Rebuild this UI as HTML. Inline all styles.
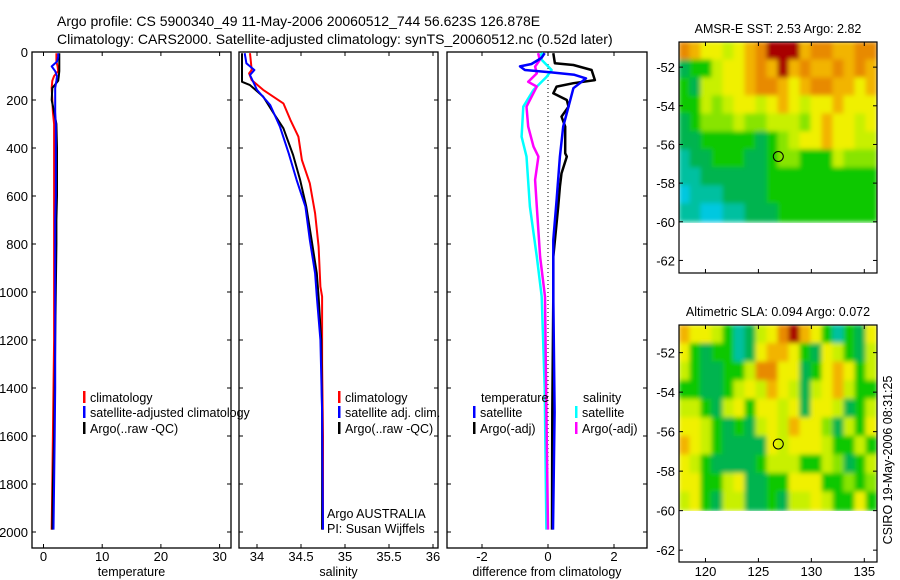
<!DOCTYPE html>
<html><head><meta charset="utf-8"><style>
html,body{margin:0;padding:0;background:#fff}
svg{display:block;font-family:"Liberation Sans",sans-serif}
</style></head><body>
<svg id="c" width="900" height="580" viewBox="0 0 900 580">
<defs>
<filter id="bl" filterUnits="userSpaceOnUse" x="600" y="0" width="300" height="580"><feGaussianBlur stdDeviation="2.5"/></filter>
<clipPath id="cm1"><rect x="679" y="42" width="198" height="181"/></clipPath>
<clipPath id="cm2"><rect x="679" y="325" width="198" height="186"/></clipPath>
</defs>
<text x="57" y="26" font-size="14">Argo profile: CS 5900340_49 11-May-2006 20060512_744 56.623S 126.878E</text>
<text x="57" y="44" font-size="14">Climatology: CARS2000. Satellite-adjusted climatology: synTS_20060512.nc (0.52d later)</text>
</svg>
<script>
// ---- data ----
const depths=[5,20,40,60,80,100,120,150,200,250,300,400,500,600,700,800,1000,1200,1400,1600,1800,1990];
const tempArgo=[2.7,2.7,2.7,2.7,2.7,2.6,2.5,1.5,1.4,1.8,2.2,2.3,2.3,2.3,2.2,2.2,2.1,2.0,1.9,1.8,1.6,1.5];
const tempSat=[2.5,2.5,2.3,1.4,2.0,2.3,2.2,2.0,2.0,2.0,2.1,2.1,2.1,2.1,2.0,2.0,2.0,2.0,2.0,1.9,1.8,1.7];
const tempClim=[2.2,2.2,2.2,2.4,2.5,1.8,1.5,1.4,1.5,1.6,1.8,1.8,1.8,1.8,1.8,1.8,1.8,1.8,1.7,1.6,1.5,1.4];
const salArgoD=[5,124,138,186,256,318,429,533,644,783,922,1019,1200,1500,1990];
const salArgo=[33.83,33.83,33.92,34.07,34.19,34.30,34.41,34.49,34.56,34.62,34.68,34.70,34.73,34.74,34.74];
const salSatD=[5,47,75,96,158,221,311,422,533,644,783,922,1019,1200,1500,1990];
const salSat=[33.86,33.88,33.97,33.92,34.0,34.15,34.26,34.36,34.45,34.55,34.60,34.66,34.68,34.72,34.74,34.75];
const salClimD=[5,75,89,117,158,214,283,353,450,547,672,811,978,1019,1300,1600,1990];
const salClim=[33.92,33.94,33.91,33.94,34.07,34.30,34.38,34.47,34.51,34.60,34.66,34.70,34.72,34.74,34.74,34.75,34.75];
const dTsatD=[5,25,50,60,75,85,95,110,151,228,311,436,617,783,1019,1500,1990];
const dTsat=[-0.1,-0.2,-0.5,-0.85,-0.7,0.1,0.8,1.15,0.77,0.62,0.46,0.36,0.26,0.16,0.16,0.2,0.15];
const dTargD=[5,47,54,75,117,130,144,172,200,228,269,311,422,436,506,561,644,853,1019,1500,1990];
const dTarg=[0.16,0.21,0.77,1.32,1.42,0.77,0.26,0.16,0.57,0.62,0.41,0.52,0.52,0.57,0.41,0.36,0.31,0.16,0.16,0.13,0.12];
const dSsatD=[5,12,33,75,103,158,228,353,436,644,853,1019,1400,1990];
const dSsat=[-0.14,-0.24,-0.19,0.11,-0.04,-0.44,-0.75,-0.8,-0.65,-0.55,-0.34,-0.19,-0.1,-0.05];
const dSargD=[5,33,61,89,124,144,228,311,394,436,533,644,853,1019,1500,1990];
const dSarg=[-0.3,-0.25,-0.39,-0.34,-0.6,-0.34,-0.65,-0.6,-0.44,-0.29,-0.39,-0.34,-0.24,-0.09,-0.05,0];
const depthTicks=[0,200,400,600,800,1000,1200,1400,1600,1800,2000];
const tempTicks=[0,10,20,30];
const salTicks=[34,34.5,35,35.5,36];
const diffTicks=[-2,0,2];
const lonTicks=[120,125,130,135];
const latTicks=[-52,-54,-56,-58,-60,-62];
const sstGrid=[
"OoYYyYoORRRoOOooOO","gGGyYYoOoRoOooOoOo","GgyyYYoOOoYoOOooYo","GGyLyYYyYoYyYYoYYY",
"gGLLLyLLyyyLYoYYyY","ggGGGGGgGLyYYoYYyy","TggGGGggGLLGGGyLLL","TTggggggGGGGGGGGGG",
"CTTTggggGGGGGGGGGG","TTCCTTgggGGGGGGGGG"];
const slaGrid=[
"oYYyGTgyYORoYGTGgY","YGgGGTgYooYGgYyGgy","yGggGGyOOYYgGYoYGy","GGggGyYyoYygyYoyGG",
"yyGgyYGYYyYgYYygGy","YYyGgGgyYyoYYLgyGY","oYyGggggYyYYYyGGyG","YyGggggGyyyGGyLgGy",
"YYGGyYggGGYYYGGLGL","yYGgyyggGgyyYyGGYG"];
const palette={R:"#a80000",O:"#e88a00",o:"#f2b400",Y:"#f0f000",y:"#c8f000",L:"#88e400",G:"#10c800",g:"#00b450",T:"#00c0a0",C:"#00c8e0"};

// ---- helpers ----
const svg=document.getElementById('c');const NS="http://www.w3.org/2000/svg";
function mk(tag,attrs,parent){const e=document.createElementNS(NS,tag);for(const k in attrs)e.setAttribute(k,attrs[k]);(parent||svg).appendChild(e);return e;}
const yTop=52,pxPerM=0.24;
const yD=d=>yTop+d*pxPerM;
const xT=v=>43.5+v*5.87;
const xS=v=>257+(v-34)*88;
const xDf=v=>548+v*33;
const panels=[{x0:32,x1:231,fx:xT,ticks:tempTicks,label:"temperature",name:"temperature-panel"},
{x0:239,x1:438,fx:xS,ticks:salTicks,label:"salinity",name:"salinity-panel"},
{x0:447,x1:647,fx:xDf,ticks:diffTicks,label:"difference from climatology",name:"difference-panel"}];
const yB=548;
panels.forEach((p,i)=>{
  const g=mk('g',{});
  
  
  const fr=mk('rect',{x:p.x0,y:yTop,width:p.x1-p.x0,height:yB-yTop,fill:'none',stroke:'#000','stroke-width':1.3},g);
  
  
  depthTicks.forEach(d=>{
    const y=yD(d);
    mk('line',{x1:p.x0,x2:p.x0+4,y1:y,y2:y,stroke:'#000'},g);
    mk('line',{x1:p.x1-4,x2:p.x1,y1:y,y2:y,stroke:'#000'},g);
    if(i===0){const t=mk('text',{x:28,y:y+5,'font-size':13,'text-anchor':'end'},g);t.textContent=d;
      
      }
  });
  p.ticks.forEach(v=>{
    const x=p.fx(v);
    mk('line',{x1:x,x2:x,y1:yTop,y2:yTop+4,stroke:'#000'},g);
    mk('line',{x1:x,x2:x,y1:yB-4,y2:yB,stroke:'#000'},g);
    const t=mk('text',{x:x,y:561,'font-size':13,'text-anchor':'middle'},g);t.textContent=v;
    
    
  });
  const l=mk('text',{x:(p.x0+p.x1)/2,y:576,'font-size':12.5,'text-anchor':'middle'},g);l.textContent=p.label;
  
  
});
const zl=mk('line',{x1:xDf(0),x2:xDf(0),y1:yD(50),y2:yD(1990),stroke:'#000','stroke-dasharray':'1,3'});


function line(ds,vs,fx,color,w,name){
  const pts=ds.map((d,i)=>fx(vs[i]).toFixed(1)+','+yD(d).toFixed(1)).join(' ');
  const e=mk('polyline',{points:pts,fill:'none',stroke:color,'stroke-width':w,'stroke-linejoin':'round'});
  
  
}
line(depths,tempClim,xT,'#f00',2,'temp-climatology-line');
line(depths,tempArgo,xT,'#000',2,'temp-argo-line');
line(depths,tempSat,xT,'#00f',2,'temp-satellite-line');
line(salClimD,salClim,xS,'#f00',2,'sal-climatology-line');
line(salArgoD,salArgo,xS,'#000',2,'sal-argo-line');
line(salSatD,salSat,xS,'#00f',2,'sal-satellite-line');
line(dSsatD,dSsat,xDf,'#0ff',2.5,'diff-sal-satellite-line');
line(dSargD,dSarg,xDf,'#f0f',2.5,'diff-sal-argo-line');
line(dTargD,dTarg,xDf,'#000',2.5,'diff-temp-argo-line');
line(dTsatD,dTsat,xDf,'#00f',2.5,'diff-temp-satellite-line');
function leg(x,y,color,text,name){
  const g=mk('g',{});
  
  
  if(color)mk('rect',{x:x,y:y-11,width:2.5,height:12,fill:color},g);
  const t=mk('text',{x:x+7,y:y,'font-size':12.5},g);t.textContent=text;
}
leg(83,402,'#f00','climatology','legend-entry-climatology');
leg(83,417,'#00f','satellite-adjusted climatology','legend-entry-satellite');
leg(83,433,'#000','Argo(..raw -QC)','legend-entry-argo');
leg(338,402,'#f00','climatology','legend-entry-climatology');
leg(338,417,'#00f','satellite adj. clim.','legend-entry-satellite');
leg(338,433,'#000','Argo(..raw -QC)','legend-entry-argo');
leg(474,402,null,'temperature','legend-header-temperature');
leg(473,417,'#00f','satellite','legend-entry-temp-satellite');
leg(473,433,'#000','Argo(-adj)','legend-entry-temp-argo');
leg(576,402,null,'salinity','legend-header-salinity');
leg(575,417,'#0ff','satellite','legend-entry-sal-satellite');
leg(575,433,'#f0f','Argo(-adj)','legend-entry-sal-argo');
[["Argo AUSTRALIA",518],["PI: Susan Wijffels",533]].forEach(a=>{
  const t=mk('text',{x:327,y:a[1],'font-size':12.5});t.textContent=a[0];
  
  
});
const lonMin=117.5,lonMax=136.2;
function drawMap(top,bottom,latTop,latBot,grid,title,clip,name,circ,showLon){
  const g=mk('g',{});
  
  
  const x0=679,x1=877;
  const fx=l=>x0+(l-lonMin)/(lonMax-lonMin)*(x1-x0);
  const fy=la=>top+(latTop-la)/(latTop-latBot)*(bottom-top);
  const ig=mk('g',{'clip-path':'url(#'+clip+')'},g);
  const bg=mk('g',{filter:'url(#bl)'},ig);
  const rows=grid.length,cols=18,cw=(x1-x0)/cols,rh=(fy(-60)-top)/rows;
  grid.forEach((r,ri)=>{for(let ci=0;ci<cols;ci++){
    mk('rect',{x:x0+ci*cw-0.5,y:top+ri*rh-0.5,width:cw+1,height:rh+1,fill:palette[r[ci]]||'#10c800'},bg);
  }});
  const fr=mk('rect',{x:x0,y:top,width:x1-x0,height:bottom-top,fill:'none',stroke:'#000','stroke-width':1.2},g);
  
  
  latTicks.forEach(la=>{const y=fy(la);
    mk('line',{x1:x0,x2:x0+4,y1:y,y2:y,stroke:'#000'},g);
    mk('line',{x1:x1-4,x2:x1,y1:y,y2:y,stroke:'#000'},g);
    const t=mk('text',{x:675,y:y+5,'font-size':13,'text-anchor':'end'},g);t.textContent=la;
    
    });
  lonTicks.forEach(lo=>{const x=fx(lo);
    mk('line',{x1:x,x2:x,y1:top,y2:top+4,stroke:'#000'},g);
    mk('line',{x1:x,x2:x,y1:bottom-4,y2:bottom,stroke:'#000'},g);
    if(showLon){const t=mk('text',{x:x,y:bottom+14,'font-size':13,'text-anchor':'middle'},g);t.textContent=lo;
      
      }});
  const c=mk('circle',{cx:fx(circ[0]),cy:fy(circ[1]),r:5,fill:'none',stroke:'#000','stroke-width':1},g);
  
  
  const t=mk('text',{x:778,y:top-9,'font-size':12.5,'text-anchor':'middle'},g);t.textContent=title;
  
  
}
drawMap(42,273,-50.7,-62.65,sstGrid,"AMSR-E SST: 2.53  Argo: 2.82",'cm1','sst-map',[126.878,-56.623],false);
drawMap(325,562,-50.6,-62.6,slaGrid,"Altimetric SLA: 0.094  Argo: 0.072",'cm2','sla-map',[126.878,-56.623],true);
const st=mk('text',{x:0,y:0,'font-size':12.5,'text-anchor':'middle',transform:'translate(892,460) rotate(-90)'});
st.textContent="CSIRO 19-May-2006 08:31:25";


</script>
</body></html>
